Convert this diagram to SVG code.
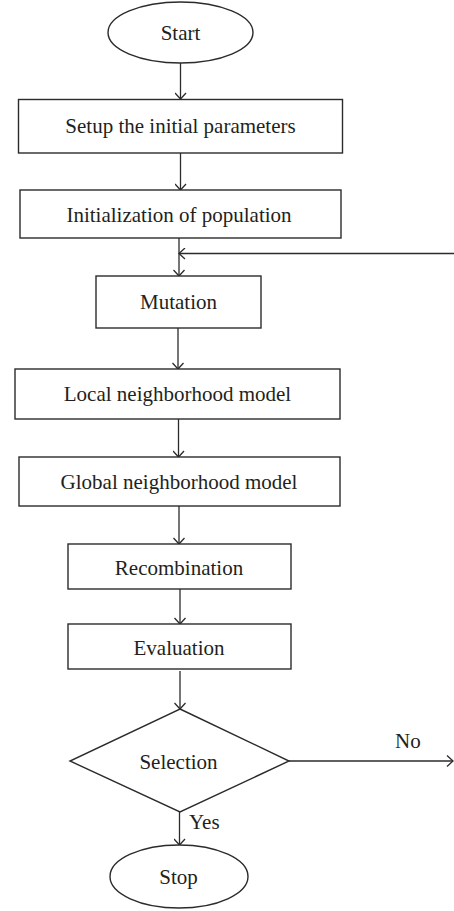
<svg xmlns="http://www.w3.org/2000/svg" width="454" height="911" viewBox="0 0 454 911">
<defs>
<marker id="ah" markerWidth="12" markerHeight="12" refX="10" refY="6" orient="auto" markerUnits="userSpaceOnUse">
<path d="M4,0.5 L10,6 L4,11.5" fill="none" stroke="#2b2b2b" stroke-width="1.3"/>
</marker>
</defs>
<style>
.s{fill:#fff;stroke:#2b2b2b;stroke-width:1.4}
.c{fill:none;stroke:#2b2b2b;stroke-width:1.3;marker-end:url(#ah)}
text{font-family:"Liberation Serif","Times New Roman",serif;font-size:21px;fill:#231f20;text-anchor:middle}
.l{text-anchor:start}
</style>
<rect width="454" height="911" fill="#fff"/>
<g id="connectors">
<line class="c" x1="180.5" y1="63" x2="180.5" y2="99"/>
<line class="c" x1="180.5" y1="153" x2="180.5" y2="190"/>
<line class="c" x1="179" y1="238" x2="179" y2="276"/>
<line class="c" x1="454" y1="253.5" x2="179" y2="253.5"/>
<line class="c" x1="178" y1="328" x2="178" y2="369"/>
<line class="c" x1="178.5" y1="419" x2="178.5" y2="457"/>
<line class="c" x1="179" y1="506" x2="179" y2="544"/>
<line class="c" x1="180" y1="589" x2="180" y2="624"/>
<line class="c" x1="180" y1="671" x2="180" y2="709"/>
<line class="c" x1="289" y1="761" x2="453" y2="761"/>
<line class="c" x1="179.5" y1="812" x2="179.5" y2="845"/>
<text class="l" x="395" y="748">No</text>
<text class="l" x="189" y="829">Yes</text>
</g>
<g id="start">
<ellipse class="s" cx="180.5" cy="32.5" rx="72.5" ry="30.5"/>
<text x="180.5" y="39.5">Start</text>
</g>
<g id="setup">
<rect class="s" x="18.5" y="99.5" width="324" height="53.5"/>
<text x="180.5" y="133">Setup the initial parameters</text>
</g>
<g id="init">
<rect class="s" x="20" y="190" width="321" height="48"/>
<text x="179" y="221.5">Initialization of population</text>
</g>
<g id="mutation">
<rect class="s" x="96" y="276" width="165" height="52"/>
<text x="178.5" y="308.5">Mutation</text>
</g>
<g id="local">
<rect class="s" x="15" y="369" width="325" height="50"/>
<text x="177.5" y="400.5">Local neighborhood model</text>
</g>
<g id="global">
<rect class="s" x="19" y="457" width="321" height="49"/>
<text x="179" y="488.5">Global neighborhood model</text>
</g>
<g id="recombination">
<rect class="s" x="68" y="544" width="223" height="45"/>
<text x="179" y="574.5">Recombination</text>
</g>
<g id="evaluation">
<rect class="s" x="68" y="624" width="223" height="45"/>
<text x="179" y="655">Evaluation</text>
</g>
<g id="selection">
<polygon class="s" points="180,709 289,761 180,812 70,761"/>
<text x="178.5" y="768.5">Selection</text>
</g>
<g id="stop">
<ellipse class="s" cx="179" cy="876.5" rx="69" ry="31.5"/>
<text x="178.5" y="883.5">Stop</text>
</g>
</svg>
